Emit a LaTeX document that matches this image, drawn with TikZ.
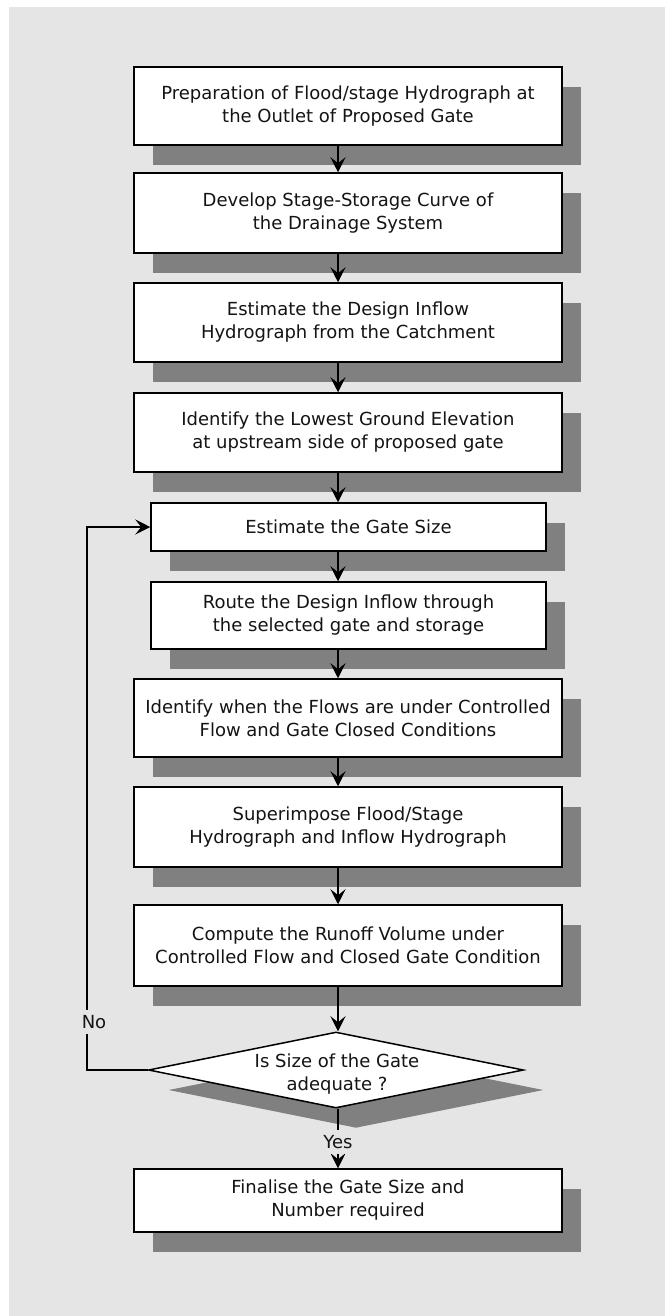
\documentclass[tikz,border=0pt]{standalone}
\usepackage{fontspec}
\setmainfont{DejaVu Sans}
\usetikzlibrary{shapes.geometric,shadows,arrows.meta}
\definecolor{bg}{HTML}{E5E5E5}
\definecolor{shade}{HTML}{808080}
\definecolor{ink}{HTML}{141414}
\begin{document}
\begin{tikzpicture}[x=1pt,y=1pt,
  box/.style={draw=black, fill=white, line width=1.5pt, inner sep=0pt, align=center,
    text=ink, font=\fontsize{18}{23}\selectfont, minimum width=428pt,
    general shadow={fill=shade, shadow xshift=19pt, shadow yshift=-20pt}},
  narrowbox/.style={box, minimum width=395pt},
  decision/.style={diamond, draw=black, fill=white, line width=1.5pt, inner sep=0pt,
    minimum width=375pt, minimum height=76pt,
    general shadow={fill=shade, shadow xshift=20pt, shadow yshift=-20pt}},
  arr/.style={draw=black, line width=1.5pt, -{Stealth[length=15pt,width=15pt,inset=6pt]}},
  lab/.style={fill=bg, text=ink, font=\fontsize{18}{23}\selectfont, inner xsep=3pt, inner ysep=5pt},
  txt/.style={text=ink, align=center, font=\fontsize{18}{23}\selectfont}
]
\useasboundingbox (0,0) rectangle (665,-1316);
\fill[bg] (9,-7) rectangle (665,-1316);
\coordinate (spine) at (338,0);
\coordinate (loopx) at (87,0);

\node[box, minimum height=78pt] (b1) at (348,-106) {Preparation of Flood/stage Hydrograph at\\the Outlet of Proposed Gate};
\node[box, minimum height=80pt] (b2) at (348,-213) {Develop Stage-Storage Curve of\\the Drainage System};
\node[box, minimum height=79pt] (b3) at (348,-322.5) {Estimate the Design Inflow\\Hydrograph from the Catchment};
\node[box, minimum height=79pt] (b4) at (348,-432.5) {Identify the Lowest Ground Elevation\\at upstream side of proposed gate};
\node[narrowbox, minimum height=48pt] (b5) at (348.5,-527) {Estimate the Gate Size};
\node[narrowbox, minimum height=67pt] (b6) at (348.5,-615.5) {Route the Design Inflow through\\the selected gate and storage};
\node[box, minimum height=78pt] (b7) at (348,-718) {Identify when the Flows are under Controlled\\Flow and Gate Closed Conditions};
\node[box, minimum height=80pt] (b8) at (348,-827) {Superimpose Flood/Stage\\Hydrograph and Inflow Hydrograph};
\node[box, minimum height=81pt] (b9) at (348,-945.5) {Compute the Runoff Volume under\\Controlled Flow and Closed Gate Condition};
\node[decision] (d) at (336,-1070) {};
\node[txt] (dtext) at (337,-1074) {Is Size of the Gate\\adequate ?};
\node[box, minimum height=63pt] (b10) at (348,-1200.5) {Finalise the Gate Size and\\Number required};

\draw[arr] (b1.south -| spine) -- (b2.north -| spine);
\draw[arr] (b2.south -| spine) -- (b3.north -| spine);
\draw[arr] (b3.south -| spine) -- (b4.north -| spine);
\draw[arr] (b4.south -| spine) -- (b5.north -| spine);
\draw[arr] (b5.south -| spine) -- (b6.north -| spine);
\draw[arr] (b6.south -| spine) -- (b7.north -| spine);
\draw[arr] (b7.south -| spine) -- (b8.north -| spine);
\draw[arr] (b8.south -| spine) -- (b9.north -| spine);
\draw[arr] (b9.south -| spine) -- (d.north -| spine);
\draw[arr] (d.south -| spine) -- (b10.north -| spine);
\draw[arr] (d.west) -- (d.west -| loopx) |- (b5.west);

\node[lab] (yes) at (338,-1142) {Yes};
\node[lab] (no) at (94,-1022) {No};
\end{tikzpicture}
\end{document}
